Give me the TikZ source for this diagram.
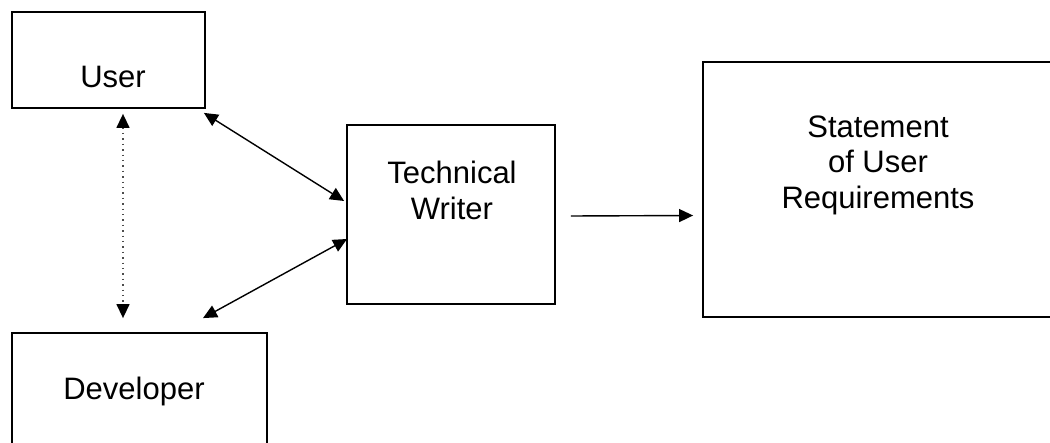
\documentclass[tikz,border=0pt]{standalone}
\usepackage{fontspec}
\setmainfont{Liberation Sans}
\usetikzlibrary{arrows.meta,calc,positioning}

\begin{document}
\begin{tikzpicture}[x=0.5pt, y=-0.5pt,
    >={Triangle[length=7pt,width=6.5pt,color=black]},
    box/.style={draw, line width=0.9pt, inner sep=0pt},
    lbl/.style={inner sep=0pt, align=center,
      font=\fontsize{15.5}{17.75}\selectfont},
    link/.style={<->, line width=0.7pt}]
  \clip (0,0) rectangle (1050,443);
  % boxes
  \node[box, minimum width=96.5pt, minimum height=48pt] (user) at (108.5,60) {};
  \node[box, minimum width=127.5pt, minimum height=70pt] (dev) at (139.5,403) {};
  \node[box, minimum width=104pt, minimum height=89.5pt] (tw) at (451,214.5) {};
  \node[box, minimum width=180pt, minimum height=127.5pt] (stmt) at (883,189.5) {};
  % texts
  \node[lbl, anchor=base] (user-txt) at (113,88) {User};
  \node[lbl, anchor=base] (dev-txt) at (134,400) {Developer};
  \node[lbl, anchor=north] (tw-txt) at (452,161) {Technical\\Writer};
  \node[lbl, anchor=north] (stmt-txt) at (878,115) {Statement\\of User\\Requirements};
  % connectors
  \draw[link] ([shift={(-1pt,-2pt)}]user.south east) -- ([shift={(-1pt,6.75pt)}]tw.west);
  \draw[link] ([shift={(31.75pt,7pt)}]dev.north) -- ([shift={(0.5pt,-12.25pt)}]tw.west);
  \draw[<->, line width=0.7pt, dotted, black!70]
    ([shift={(7.25pt,-2.5pt)}]user.south) -- ([shift={(-8.25pt,7pt)}]dev.north);
  \draw[->, line width=0.7pt] ([shift={(7.5pt,-0.75pt)}]tw.east) -- ([shift={(-4.5pt,-13pt)}]stmt.west);
\end{tikzpicture}
\end{document}
